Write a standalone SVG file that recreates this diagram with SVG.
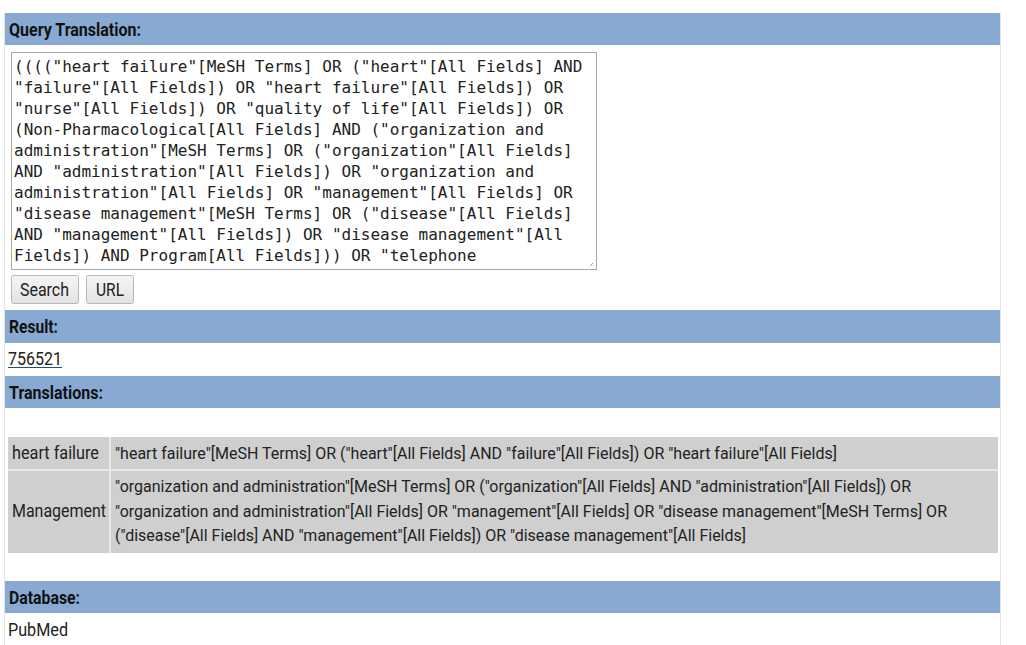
<svg xmlns="http://www.w3.org/2000/svg" width="1026" height="645" viewBox="0 0 1026 645">
<defs>
<linearGradient id="btn" x1="0" y1="0" x2="0" y2="1">
<stop offset="0" stop-color="#f6f6f6"/>
<stop offset="1" stop-color="#e2e2e2"/>
</linearGradient>
</defs>
<style>
.hdr{fill:#87a9d2}
.ht{font-family:Roboto,"Liberation Sans",sans-serif;font-weight:bold;font-size:18px;fill:#111}
.t{font-family:Roboto,"Liberation Sans",sans-serif;font-size:18px;fill:#222}
.tb{font-family:Roboto,"Liberation Sans",sans-serif;font-size:17px;fill:#222}
.mono{font-family:"DejaVu Sans Mono",monospace;font-size:16px;fill:#222}
.cell{fill:#cfcfcf}
.btn{fill:url(#btn);stroke:#b8b8b8;stroke-width:1}
</style>
<rect x="0" y="0" width="1026" height="645" fill="#ffffff"/>
<rect x="4.5" y="13.5" width="996" height="640" fill="#ffffff" stroke="#e4e4e4" stroke-width="1"/>

<g id="query-translation">
<rect class="hdr" x="5" y="13" width="995" height="32"/>
<text class="ht" x="9" y="36" textLength="132" lengthAdjust="spacingAndGlyphs">Query Translation:</text>
<rect x="11.5" y="52.5" width="585" height="217" fill="#ffffff" stroke="#a9a9a9" stroke-width="1"/>
<path d="M593 263 L590 266 M593 265.5 L592.5 266" stroke="#999" stroke-width="1"/>
<text class="mono" x="14" y="72">((((&quot;heart failure&quot;[MeSH Terms] OR (&quot;heart&quot;[All Fields] AND</text>
<text class="mono" x="14" y="93">&quot;failure&quot;[All Fields]) OR &quot;heart failure&quot;[All Fields]) OR</text>
<text class="mono" x="14" y="114">&quot;nurse&quot;[All Fields]) OR &quot;quality of life&quot;[All Fields]) OR</text>
<text class="mono" x="14" y="135">(Non-Pharmacological[All Fields] AND (&quot;organization and</text>
<text class="mono" x="14" y="156">administration&quot;[MeSH Terms] OR (&quot;organization&quot;[All Fields]</text>
<text class="mono" x="14" y="177">AND &quot;administration&quot;[All Fields]) OR &quot;organization and</text>
<text class="mono" x="14" y="198">administration&quot;[All Fields] OR &quot;management&quot;[All Fields] OR</text>
<text class="mono" x="14" y="219">&quot;disease management&quot;[MeSH Terms] OR (&quot;disease&quot;[All Fields]</text>
<text class="mono" x="14" y="240">AND &quot;management&quot;[All Fields]) OR &quot;disease management&quot;[All</text>
<text class="mono" x="14" y="261">Fields]) AND Program[All Fields])) OR &quot;telephone</text>
</g>

<g id="search-button">
<rect class="btn" x="11.5" y="275.5" width="67" height="28" rx="2"/>
<text class="t" x="20" y="296" textLength="49" lengthAdjust="spacingAndGlyphs" fill="#111">Search</text>
</g>
<g id="url-button">
<rect class="btn" x="86.5" y="275.5" width="47" height="28" rx="2"/>
<text class="t" x="96" y="296" textLength="28" lengthAdjust="spacingAndGlyphs">URL</text>
</g>

<g id="result">
<rect class="hdr" x="5" y="310" width="995" height="33"/>
<text class="ht" x="9" y="333" textLength="49" lengthAdjust="spacingAndGlyphs">Result:</text>
<text class="t" x="8" y="365" textLength="54" lengthAdjust="spacingAndGlyphs" fill="#2b4d73">756521</text>
<line x1="8" y1="367.5" x2="62" y2="367.5" stroke="#2b4d73" stroke-width="1"/>
</g>

<g id="translations">
<rect class="hdr" x="5" y="376" width="995" height="32"/>
<text class="ht" x="9" y="399" textLength="94" lengthAdjust="spacingAndGlyphs">Translations:</text>
<rect x="8" y="437" width="990" height="116" fill="#e8e8e8"/>
<rect class="cell" x="8" y="437" width="101" height="32"/>
<rect class="cell" x="111" y="437" width="887" height="32"/>
<rect class="cell" x="8" y="471" width="101" height="82"/>
<rect class="cell" x="111" y="471" width="887" height="82"/>
<text class="t" x="12" y="459" textLength="87" lengthAdjust="spacingAndGlyphs">heart failure</text>
<text class="tb" x="115" y="459" textLength="722" lengthAdjust="spacingAndGlyphs">&quot;heart failure&quot;[MeSH Terms] OR (&quot;heart&quot;[All Fields] AND &quot;failure&quot;[All Fields]) OR &quot;heart failure&quot;[All Fields]</text>
<text class="t" x="12" y="517" textLength="94" lengthAdjust="spacingAndGlyphs">Management</text>
<text class="tb" x="115" y="492" textLength="796" lengthAdjust="spacingAndGlyphs">&quot;organization and administration&quot;[MeSH Terms] OR (&quot;organization&quot;[All Fields] AND &quot;administration&quot;[All Fields]) OR</text>
<text class="tb" x="115" y="517" textLength="832" lengthAdjust="spacingAndGlyphs">&quot;organization and administration&quot;[All Fields] OR &quot;management&quot;[All Fields] OR &quot;disease management&quot;[MeSH Terms] OR</text>
<text class="tb" x="115" y="541" textLength="631" lengthAdjust="spacingAndGlyphs">(&quot;disease&quot;[All Fields] AND &quot;management&quot;[All Fields]) OR &quot;disease management&quot;[All Fields]</text>
</g>

<g id="database">
<rect class="hdr" x="5" y="581" width="995" height="32"/>
<text class="ht" x="9" y="604" textLength="71" lengthAdjust="spacingAndGlyphs">Database:</text>
<text class="t" x="8" y="636" textLength="60" lengthAdjust="spacingAndGlyphs">PubMed</text>
</g>
</svg>
